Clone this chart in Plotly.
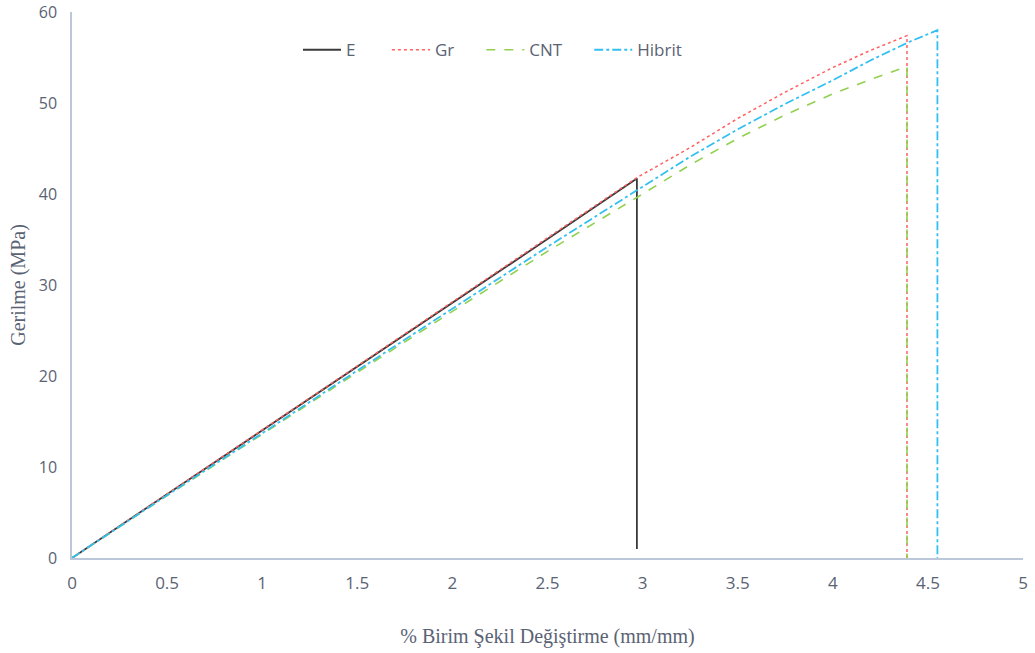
import plotly.graph_objects as go

# Strain (%) and stress (MPa)
e_x = [0, 0.5, 1.0, 1.5, 2.0, 2.5, 2.97, 2.97]
e_y = [0, 7.0, 14.0, 21.0, 28.05, 35.05, 41.7, 1.0]

gr_x = [0, 0.5, 1.0, 1.5, 2.0, 2.5, 2.97, 3.25, 3.5, 3.75, 4.0, 4.2, 4.39, 4.39]
gr_y = [0, 7.05, 14.1, 21.1, 28.15, 35.15, 41.8, 45.1, 48.3, 51.2, 53.9, 55.8, 57.4, 0]

cnt_x = [0, 0.5, 1.0, 1.5, 2.0, 2.5, 3.0, 3.25, 3.5, 3.75, 4.0, 4.2, 4.39, 4.39]
cnt_y = [0, 6.85, 13.6, 20.4, 27.1, 33.7, 40.0, 43.2, 46.1, 48.7, 51.0, 52.6, 54.0, 0]

hib_x = [0, 0.5, 1.0, 1.5, 2.0, 2.5, 3.0, 3.25, 3.5, 3.75, 4.0, 4.2, 4.4, 4.55, 4.55]
hib_y = [0, 6.9, 13.7, 20.6, 27.4, 34.2, 40.8, 44.1, 47.1, 49.9, 52.5, 54.7, 56.7, 58.0, 0]

series_names = ["E", "Gr", "CNT", "Hibrit"]

x_ticks = [0, 0.5, 1, 1.5, 2, 2.5, 3, 3.5, 4, 4.5, 5]
x_tick_text = ["0", "0.5", "1", "1.5", "2", "2.5", "3", "3.5", "4", "4.5", "5"]
y_ticks = [0, 10, 20, 30, 40, 50, 60]

nb = "\u00a0"  # spacing between legend entries

fig = go.Figure()
fig.add_trace(go.Scatter(x=e_x, y=e_y, name=series_names[0] + nb * 6, mode="lines",
                         line=dict(color="#3a3a3a", width=1.8, dash="solid")))
fig.add_trace(go.Scatter(x=gr_x, y=gr_y, name=series_names[1] + nb * 5, mode="lines",
                         line=dict(color="#ff6060", width=1.5, dash="dot")))
fig.add_trace(go.Scatter(x=cnt_x, y=cnt_y, name=series_names[2] + nb * 5, mode="lines",
                         line=dict(color="#92d050", width=1.6, dash="dash")))
fig.add_trace(go.Scatter(x=hib_x, y=hib_y, name=series_names[3], mode="lines",
                         line=dict(color="#33c0f0", width=1.8, dash="dashdot")))

x_tick_font = dict(family="Open Sans", size=17, color="#5a6374")
y_tick_font = dict(family="Open Sans", size=16, color="#5a6374")
title_font = dict(family="Liberation Serif", size=20, color="#5a6374")

fig.update_layout(
    width=1035, height=653,
    margin=dict(l=72, r=12, t=12, b=95),
    paper_bgcolor="white", plot_bgcolor="white",
    showlegend=True,
    legend=dict(orientation="h", x=0.2376, y=0.93, xanchor="left", yanchor="middle",
                itemwidth=38,
                font=dict(family="Open Sans", size=17, color="#5a6374"),
                bgcolor="rgba(0,0,0,0)"),
    xaxis=dict(range=[0, 5], tickvals=x_ticks, ticktext=x_tick_text,
               showgrid=False, zeroline=False, showline=True,
               linecolor="#bcc8da", linewidth=1.5,
               ticks="outside", ticklen=9, tickcolor="rgba(0,0,0,0)",
               tickfont=x_tick_font, automargin=False,
               title=dict(text="% Birim Şekil Değiştirme (mm/mm)", font=title_font, standoff=36)),
    yaxis=dict(range=[0, 60], tickvals=y_ticks,
               showgrid=False, zeroline=False, showline=True,
               linecolor="#bcc8da", linewidth=1.5,
               ticks="outside", ticklen=10, tickcolor="rgba(0,0,0,0)",
               tickfont=y_tick_font, automargin=False,
               title=dict(text="Gerilme (MPa)", font=title_font, standoff=8)),
)

fig.write_html("out.html", config={"displayModeBar": False},
               post_script="document.body.style.margin='0px';")
